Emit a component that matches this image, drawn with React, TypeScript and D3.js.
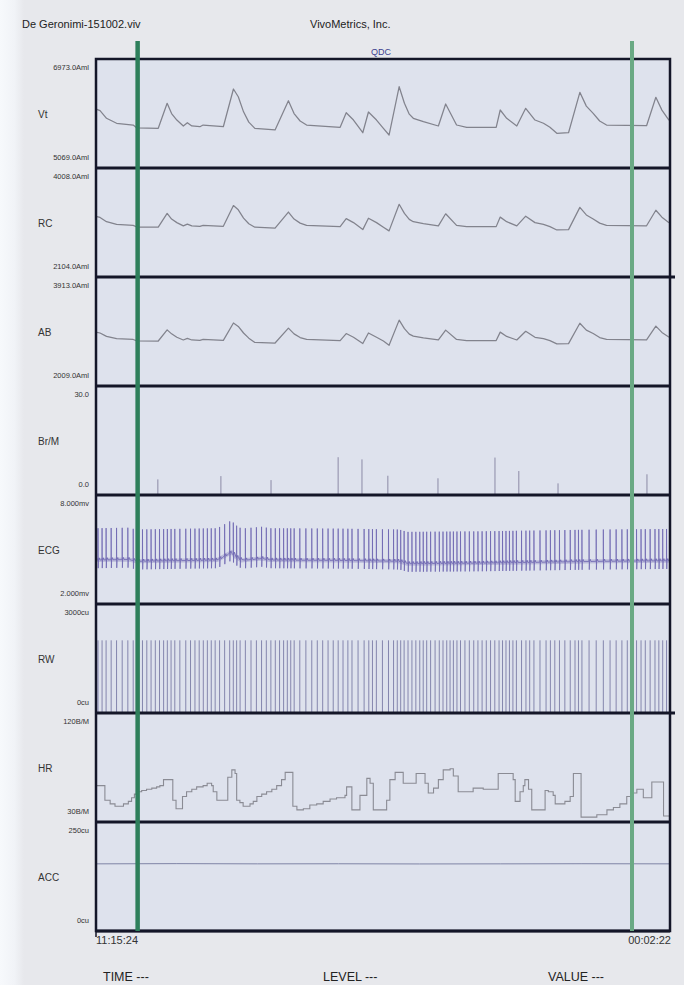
import React from 'react';
import * as d3 from 'd3';

const W = 684, H = 985;
const X0 = 96, X1 = 670;
const PANEL_TOP = 59, PANEL_H = 109;
const TIME_MAX = 142;

const channelNames = ['Vt', 'RC', 'AB', 'Br/M', 'ECG', 'RW', 'HR', 'ACC'];
const maxLabels = ['6973.0Aml', '4008.0Aml', '3913.0Aml', '30.0', '8.000mv', '3000cu', '120B/M', '250cu'];
const minLabels = ['5069.0Aml', '2104.0Aml', '2009.0Aml', '0.0', '2.000mv', '0cu', '30B/M', '0cu'];
const domainsMin = [5069, 2104, 2009, 0, 2, 0, 30, 0];
const domainsMax = [6973, 4008, 3913, 30, 8, 3000, 120, 250];

// respiration (seconds)
const breathT = [0.2, 1.0, 2.6, 5.1, 9.2, 10.1, 15.4, 17.6, 18.7, 20.0, 21.6, 22.6, 23.7, 25.7, 26.5, 31.5, 34.0, 35.2, 36.5, 37.8, 39.3, 44.3, 47.6, 49.0, 50.5, 52.1, 60.4, 61.9, 63.7, 66.0, 67.4, 69.4, 71.1, 72.5, 75.0, 76.3, 77.5, 78.5, 81.0, 84.7, 86.5, 89.2, 91.7, 99.0, 100.0, 101.6, 104.1, 106.3, 108.6, 110.7, 112.3, 114.0, 116.9, 119.7, 121.3, 123.0, 124.6, 126.3, 136.2, 138.5, 140.0, 141.6, 142];
const vtVals = [6094, 6070, 5937, 5850, 5820, 5768, 5762, 6199, 6020, 5907, 5803, 5860, 5803, 5790, 5820, 5790, 6449, 6314, 6050, 5870, 5762, 5733, 6244, 6020, 5890, 5820, 5780, 6035, 5907, 5685, 6047, 5907, 5762, 5645, 6489, 6200, 6010, 5937, 5878, 5803, 6187, 5820, 5780, 5780, 6082, 5937, 5803, 6112, 5907, 5850, 5780, 5675, 5685, 6391, 6150, 6024, 5890, 5820, 5808, 6304, 6080, 5920, 5890];
const rcVals = [3157, 3144, 3070, 3022, 3006, 2977, 2974, 3214, 3116, 3054, 2997, 3028, 2997, 2990, 3006, 2990, 3352, 3278, 3133, 3034, 2974, 2958, 3239, 3116, 3045, 3006, 2984, 3124, 3054, 2932, 3131, 3054, 2974, 2910, 3374, 3215, 3110, 3070, 3038, 2997, 3208, 3006, 2984, 2984, 3150, 3070, 2997, 3167, 3054, 3022, 2984, 2926, 2932, 3320, 3188, 3118, 3045, 3006, 2999, 3270, 3149, 3060, 3045];
const abVals = [2947, 2935, 2875, 2835, 2822, 2797, 2795, 2990, 2920, 2860, 2813, 2840, 2813, 2807, 2822, 2807, 3110, 3050, 2935, 2845, 2770, 2760, 3020, 2920, 2855, 2822, 2802, 2925, 2860, 2750, 2935, 2860, 2795, 2720, 3160, 3010, 2915, 2880, 2850, 2813, 2985, 2822, 2802, 2802, 2950, 2875, 2813, 2965, 2860, 2835, 2802, 2745, 2750, 3105, 2985, 2925, 2855, 2822, 2816, 3055, 2945, 2870, 2855];

// breaths per minute markers
const brT = [15.3, 30.9, 43.3, 59.9, 65.8, 72.2, 84.6, 98.7, 104.6, 114.3, 136.3];
const brVals = [4.3, 5.2, 4.1, 10.4, 9.8, 5.3, 4.6, 10.3, 6.6, 3.2, 5.7];

// heart rate steps
const hrT = [0, 2.2, 3.5, 4.7, 6.8, 8.0, 8.8, 9.5, 10.1, 11.3, 12.5, 13.8, 15.0, 15.8, 16.7, 19.0, 19.8, 21.4, 22.4, 23.7, 24.9, 26.5, 27.5, 28.6, 29.0, 29.9, 32.6, 33.6, 34.4, 34.8, 35.6, 36.4, 38.1, 38.9, 39.8, 41.0, 42.2, 43.5, 44.7, 45.9, 46.8, 48.7, 49.7, 51.3, 52.9, 54.6, 56.2, 57.9, 59.5, 61.6, 62.0, 63.3, 65.3, 67.0, 67.8, 68.6, 71.9, 72.7, 74.0, 76.0, 79.2, 81.4, 82.2, 83.5, 84.7, 85.9, 87.6, 88.4, 89.6, 93.3, 95.8, 98.3, 99.5, 103.2, 103.7, 104.9, 105.7, 106.1, 107.0, 107.8, 111.1, 111.9, 113.1, 113.6, 116.0, 117.3, 118.1, 120.0, 123.9, 126.4, 128.0, 129.6, 131.3, 132.5, 133.8, 135.4, 137.5, 140.4, 142];
const hrVals = [60, 48, 45, 43, 45, 47, 50, 53, 55, 56, 57, 58, 59, 60, 65, 48, 41, 51, 55, 57, 59, 60, 62, 60, 55, 48, 67, 73, 70, 48, 46, 43, 45, 47, 51, 53, 55, 57, 60, 65, 71, 43, 40, 41, 44, 45, 47, 49, 50, 52, 59, 40, 52, 66, 62, 40, 48, 65, 71, 62, 70, 62, 54, 58, 65, 73, 74, 68, 55, 58, 57, 57, 70, 65, 47, 55, 60, 65, 57, 40, 56, 55, 52, 45, 47, 51, 70, 34, 36, 40, 42, 45, 51, 54, 57, 50, 63, 35, 35];

// ECG baseline (mV)
const ecgBaseT = [0, 8, 10, 30, 33.5, 34.5, 36, 41, 43, 60, 75, 77, 95, 110, 125, 142];
const ecgBaseV = [4.42, 4.45, 4.35, 4.42, 4.85, 4.6, 4.4, 4.5, 4.42, 4.4, 4.35, 4.22, 4.25, 4.3, 4.35, 4.38];
const ECG_R = 1.75;
const ECG_S = 0.45;
const RW_LEVEL = 2000;

// accelerometer
const accT = [0, 20, 40, 60, 80, 100, 120, 142];
const accV = [154, 154.5, 154, 154.2, 153.8, 154, 154.3, 154];

const markerT = [10.3, 132.6];
const timeStart = '11:15:24';
const timeEnd = '00:02:22';

const FONT = '"Liberation Sans", Arial, Helvetica, sans-serif';

export default function App() {
  const x = d3.scaleLinear().domain([0, TIME_MAX]).range([X0, X1]);
  const top = (i: number) => PANEL_TOP + i * PANEL_H;
  const yS = (i: number) => d3.scaleLinear().domain([domainsMin[i], domainsMax[i]]).range([top(i) + PANEL_H, top(i)]);

  const lineOf = (i: number, ts: number[], vs: number[], curve: any = d3.curveLinear) =>
    d3.line<number>().x((_, k) => x(ts[k])).y((_, k) => yS(i)(vs[k])).curve(curve)(vs) || '';

  const hrAt = (t: number) => {
    let v = hrVals[0];
    for (let k = 0; k < hrT.length; k++) { if (hrT[k] <= t) v = hrVals[k]; else break; }
    return v;
  };
  const beats: number[] = [];
  let tb = 0.5;
  while (tb < TIME_MAX - 0.3) { beats.push(tb); tb += 60 / hrAt(tb); }

  const base = d3.scaleLinear().domain(ecgBaseT).range(ecgBaseV);
  const ecgPts: [number, number][] = [[0, base(0)]];
  beats.forEach((b) => {
    const bl = base(b);
    ecgPts.push([b - 0.12, bl], [b - 0.02, bl], [b, bl + ECG_R], [b + 0.05, bl - ECG_S], [b + 0.12, bl], [b + 0.3, bl + 0.12], [b + 0.45, bl]);
  });
  ecgPts.push([TIME_MAX, base(TIME_MAX)]);
  const ecgY = yS(4);
  const ecgPath = d3.line<[number, number]>().x((d) => x(d[0])).y((d) => ecgY(d[1]))(ecgPts) || '';
  const ecgBasePath = d3.line<number>().x((_, k) => x(ecgBaseT[k])).y((_, k) => ecgY(ecgBaseV[k]))(ecgBaseV) || '';

  const bottom = top(8);

  return (
    <svg width={W} height={H} style={{ position: 'absolute', left: 0, top: 0, display: 'block' }} xmlns="http://www.w3.org/2000/svg">
      <defs>
        <linearGradient id="leftEdge" x1="0" x2="1" y1="0" y2="0">
          <stop offset="0" stopColor="#f7f9fc" />
          <stop offset="0.6" stopColor="#f1f3f7" />
          <stop offset="1" stopColor="#e7e8ec" />
        </linearGradient>
      </defs>
      <rect x={0} y={0} width={W} height={H} fill="#e7e8ec" />
      <rect x={0} y={0} width={24} height={H} fill="url(#leftEdge)" />
      <rect x={X0} y={top(0)} width={X1 - X0} height={bottom - top(0)} fill="#dee2ed" />

      <text x={22} y={28} fontFamily={FONT} fontSize={11} fill="#222">De Geronimi-151002.viv</text>
      <text x={310} y={28} fontFamily={FONT} fontSize={11} fill="#222">VivoMetrics, Inc.</text>
      <text x={381} y={55} fontFamily={FONT} fontSize={9} fill="#3d3f8f" textAnchor="middle">QDC</text>

      {channelNames.map((n, i) => (
        <g key={n}>
          <text x={89} y={top(i) + 11} fontFamily={FONT} fontSize={7.5} fill="#333" textAnchor="end">{maxLabels[i]}</text>
          <text x={89} y={top(i) + PANEL_H - 8} fontFamily={FONT} fontSize={7.5} fill="#333" textAnchor="end">{minLabels[i]}</text>
          <text x={38} y={top(i) + PANEL_H / 2 + 4.5} fontFamily={FONT} fontSize={10} fill="#333">{n}</text>
        </g>
      ))}

      {/* Vt, RC, AB */}
      <path d={lineOf(0, breathT, vtVals)} fill="none" stroke="#82838d" strokeWidth={1.25} strokeLinejoin="round" />
      <path d={lineOf(1, breathT, rcVals)} fill="none" stroke="#82838d" strokeWidth={1.25} strokeLinejoin="round" />
      <path d={lineOf(2, breathT, abVals)} fill="none" stroke="#82838d" strokeWidth={1.25} strokeLinejoin="round" />

      {/* Br/M */}
      {brT.map((t, k) => (
        <line key={k} x1={x(t)} x2={x(t)} y1={yS(3)(0)} y2={yS(3)(brVals[k])} stroke="#8c8aa6" strokeWidth={1} />
      ))}

      {/* ECG */}
      <path d={ecgBasePath} fill="none" stroke="#7a72b8" strokeWidth={4} strokeOpacity={0.35} />
      <path d={ecgPath} fill="none" stroke="#6c64b0" strokeWidth={0.9} strokeOpacity={0.85} />

      {/* RW */}
      {beats.map((b, k) => (
        <line key={k} x1={x(b)} x2={x(b)} y1={yS(5)(0)} y2={yS(5)(RW_LEVEL)} stroke="#7b7ca6" strokeWidth={0.9} />
      ))}

      {/* HR */}
      <path d={lineOf(6, hrT, hrVals, d3.curveStepAfter)} fill="none" stroke="#8a8b94" strokeWidth={1.1} />

      {/* ACC */}
      <path d={lineOf(7, accT, accV)} fill="none" stroke="#7f84a6" strokeWidth={1} />

      {/* frame */}
      <rect x={X0} y={top(0)} width={X1 - X0} height={bottom - top(0)} fill="none" stroke="#141628" strokeWidth={2.5} />
      {d3.range(1, 8).map((i) => (
        <line key={i} x1={X0} x2={i === 2 || i === 6 ? X1 + 5 : X1} y1={top(i)} y2={top(i)} stroke="#141628" strokeWidth={3} />
      ))}
      <line x1={X0} x2={X1} y1={bottom} y2={bottom} stroke="#141628" strokeWidth={3} />
      <line x1={X0} x2={X0} y1={bottom} y2={bottom + 6} stroke="#141628" strokeWidth={1.5} />

      {/* markers */}
      <line x1={x(markerT[0])} x2={x(markerT[0])} y1={41} y2={bottom} stroke="#2e7f5b" strokeWidth={4.5} />
      <line x1={x(markerT[1])} x2={x(markerT[1])} y1={41} y2={bottom} stroke="#6aa984" strokeWidth={4} />

      <text x={96} y={944} fontFamily={FONT} fontSize={11} fill="#333">{timeStart}</text>
      <text x={671} y={944} fontFamily={FONT} fontSize={11} fill="#333" textAnchor="end">{timeEnd}</text>

      <text x={103} y={981} fontFamily={FONT} fontSize={12.5} fill="#222">TIME ---</text>
      <text x={323} y={981} fontFamily={FONT} fontSize={12.5} fill="#222">LEVEL ---</text>
      <text x={548} y={981} fontFamily={FONT} fontSize={12.5} fill="#222">VALUE ---</text>
    </svg>
  );
}
